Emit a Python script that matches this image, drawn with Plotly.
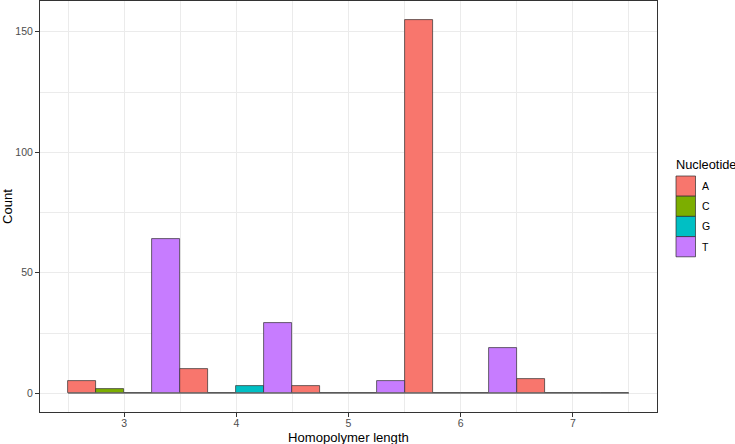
import plotly.graph_objects as go

# ---- data ----
lengths = [3, 4, 5, 6, 7]
nucleotides = ["A", "C", "G", "T"]
counts_A = [5, 10, 3, 155, 6]
counts_C = [2, 0, 0, 0, 0]
counts_G = [0, 3, 0, 0, 0]
counts_T = [64, 29, 5, 19, 0]
x_ticks = [3, 4, 5, 6, 7]
y_ticks = [0, 50, 100, 150]

counts = {"A": counts_A, "C": counts_C, "G": counts_G, "T": counts_T}
colors = {"A": "#F8766D", "C": "#7CAE00", "G": "#00BFC4", "T": "#C77CFF"}

FONT = "Liberation Sans, Arial, Helvetica, sans-serif"
OUTLINE = "rgba(40,40,40,0.85)"
TICK_SIZE = 10.5
TITLE_SIZE = 13.1

fig = go.Figure()
for nt in nucleotides:
    fig.add_trace(go.Bar(
        x=lengths, y=counts[nt], name=nt,
        marker=dict(color=colors[nt], line=dict(color=OUTLINE, width=0.8)),
        showlegend=False,
    ))

# baseline drawn by zero-height bars in the original
fig.add_trace(go.Scatter(
    x=[min(lengths) - 0.5, max(lengths) + 0.5], y=[0, 0], mode="lines",
    line=dict(color="#8a8a8a", width=1.3), showlegend=False, hoverinfo="skip",
))

ymax = max(max(v) for v in counts.values())
span_x = (max(lengths) + 0.5) - (min(lengths) - 0.5)

fig.update_layout(
    width=735, height=444,
    margin=dict(l=40, r=78, t=1, b=32),
    barmode="group", bargap=0, bargroupgap=0,
    plot_bgcolor="white", paper_bgcolor="white",
    font=dict(family=FONT, color="black"),
    xaxis=dict(
        range=[min(lengths) - 0.5 - 0.05 * span_x, max(lengths) + 0.5 + 0.05 * span_x],
        tickmode="array", tickvals=x_ticks, ticktext=[str(v) for v in x_ticks],
        ticks="outside", ticklen=4, tickwidth=1, tickcolor="#333333",
        tickfont=dict(size=TICK_SIZE, color="#4D4D4D", family=FONT),
        ticklabelstandoff=-3,
        showgrid=True, gridcolor="#EBEBEB", gridwidth=1.2,
        minor=dict(tick0=2.5, dtick=1, showgrid=True, gridcolor="#EBEBEB", gridwidth=0.7, ticklen=0),
        showline=True, linecolor="#333333", linewidth=1, mirror=True,
        zeroline=False,
        automargin=False,
    ),
    yaxis=dict(
        range=[-0.05 * ymax, 1.05 * ymax],
        tickmode="array", tickvals=y_ticks, ticktext=[str(v) for v in y_ticks],
        ticks="outside", ticklen=4, tickwidth=1, tickcolor="#333333",
        tickfont=dict(size=TICK_SIZE, color="#4D4D4D", family=FONT),
        showgrid=True, gridcolor="#EBEBEB", gridwidth=1.2,
        minor=dict(tick0=25, dtick=50, showgrid=True, gridcolor="#EBEBEB", gridwidth=0.7, ticklen=0),
        showline=True, linecolor="#333333", linewidth=1, mirror=True,
        zeroline=False,
        title=dict(text="Count", font=dict(size=TITLE_SIZE, color="black", family=FONT), standoff=4),
        automargin=False,
    ),
)

# ---- pixel helpers for title / legend placement ----
plot_l, plot_w = 40, 735 - 40 - 78
plot_b, plot_h = 444 - 32, 444 - 32 - 1


def px_to_paper_x(px):
    return (px - plot_l) / plot_w


def px_to_paper_y(py):
    return (plot_b - py) / plot_h


# x-axis title
fig.add_annotation(
    x=0.5, y=px_to_paper_y(438), xref="paper", yref="paper",
    text="Homopolymer length", showarrow=False, xanchor="center", yanchor="middle",
    font=dict(size=TITLE_SIZE, color="black", family=FONT),
)

# legend (ggplot style keys)
fig.add_annotation(
    x=px_to_paper_x(674), y=px_to_paper_y(165), xref="paper", yref="paper",
    text="Nucleotide", showarrow=False, xanchor="left", yanchor="middle",
    font=dict(size=12.8, color="black", family=FONT),
)
key_top, key_h, key_l, key_w = 176, 20.2, 676, 19.5
for i, nt in enumerate(nucleotides):
    y0 = key_top + i * key_h
    fig.add_shape(
        type="rect", xref="paper", yref="paper",
        x0=px_to_paper_x(key_l), x1=px_to_paper_x(key_l + key_w),
        y0=px_to_paper_y(y0), y1=px_to_paper_y(y0 + key_h),
        fillcolor=colors[nt], line=dict(color=OUTLINE, width=0.8),
    )
    fig.add_annotation(
        x=px_to_paper_x(700), y=px_to_paper_y(y0 + key_h / 2), xref="paper", yref="paper",
        text=nt, showarrow=False, xanchor="left", yanchor="middle",
        font=dict(size=TICK_SIZE, color="black", family=FONT),
    )

fig.write_html("out.html")
